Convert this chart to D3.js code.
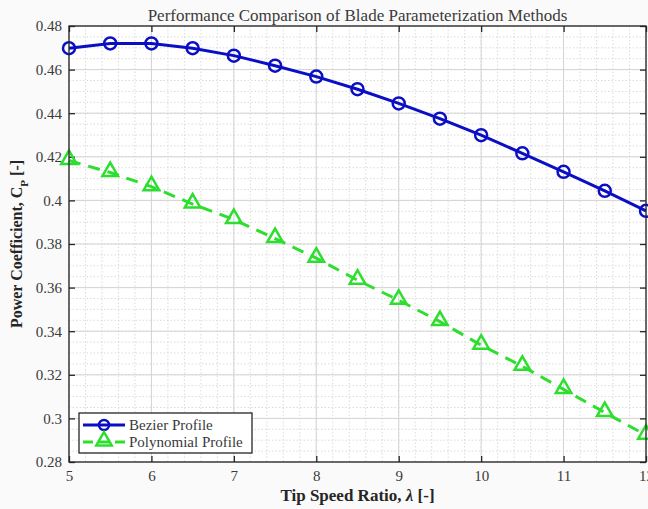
<!DOCTYPE html>
<html>
<head>
<meta charset="utf-8">
<script src="https://cdn.jsdelivr.net/npm/d3@7"></script>
<style>
  html, body { margin: 0; padding: 0; background: #fafafa; }
  svg { display: block; }
</style>
</head>
<body>
<div id="chart"></div>
<script>
  // tip speed ratio samples
  const tsr = [5, 5.5, 6, 6.5, 7, 7.5, 8, 8.5, 9, 9.5, 10, 10.5, 11, 11.5, 12];
  const bezierCp = [0.4698, 0.4720, 0.4720, 0.4698, 0.4664, 0.4618, 0.4568, 0.4510, 0.4445, 0.4375, 0.4299, 0.4216, 0.4131, 0.4044, 0.3952];
  const polyCp = [0.4183, 0.4128, 0.4063, 0.3983, 0.3912, 0.3825, 0.3735, 0.3634, 0.3542, 0.3444, 0.3336, 0.3239, 0.3133, 0.3027, 0.2923];
  const xTicks = [5, 6, 7, 8, 9, 10, 11, 12];
  const yTicks = [0.28, 0.3, 0.32, 0.34, 0.36, 0.38, 0.4, 0.42, 0.44, 0.46, 0.48];
  const seriesNames = ["Bezier Profile", "Polynomial Profile"];

  const width = 648;
  const height = 509;
  const margin = { top: 26, right: 2, bottom: 47, left: 69 };
  const innerW = width - margin.left - margin.right;
  const innerH = height - margin.top - margin.bottom;

  const serif = "'Liberation Serif', 'Times New Roman', serif";
  const blue = "#0b0fc4";
  const green = "#2ede2e";
  const axisColor = "#262626";

  const svg = d3.select("#chart").append("svg")
    .attr("width", width)
    .attr("height", height);

  const x = d3.scaleLinear().domain([5, 12]).range([0, innerW]);
  const y = d3.scaleLinear().domain([0.28, 0.48]).range([innerH, 0]);

  const g = svg.append("g")
    .attr("transform", `translate(${margin.left},${margin.top})`);

  g.append("rect")
    .attr("width", innerW)
    .attr("height", innerH)
    .attr("fill", "#ffffff");

  // minor grid
  const xMinor = d3.range(5, 12.001, 0.2);
  const yMinor = d3.range(0.28, 0.4801, 0.005);
  g.append("g").selectAll("line")
    .data(xMinor)
    .join("line")
    .attr("x1", d => x(d)).attr("x2", d => x(d))
    .attr("y1", 0).attr("y2", innerH)
    .attr("stroke", "#d2d2d2")
    .attr("stroke-width", 0.8)
    .attr("stroke-dasharray", "1.5,2");
  g.append("g").selectAll("line")
    .data(yMinor)
    .join("line")
    .attr("x1", 0).attr("x2", innerW)
    .attr("y1", d => y(d)).attr("y2", d => y(d))
    .attr("stroke", "#d2d2d2")
    .attr("stroke-width", 0.8)
    .attr("stroke-dasharray", "1.5,2");

  // major grid
  g.append("g").selectAll("line")
    .data(xTicks)
    .join("line")
    .attr("x1", d => x(d)).attr("x2", d => x(d))
    .attr("y1", 0).attr("y2", innerH)
    .attr("stroke", "#d4d4d4")
    .attr("stroke-width", 1);
  g.append("g").selectAll("line")
    .data(yTicks)
    .join("line")
    .attr("x1", 0).attr("x2", innerW)
    .attr("y1", d => y(d)).attr("y2", d => y(d))
    .attr("stroke", "#d4d4d4")
    .attr("stroke-width", 1);

  // axes (ticks inward, box on)
  const styleAxis = sel => {
    sel.select(".domain").remove();
    sel.selectAll(".tick line").attr("stroke", axisColor).attr("stroke-width", 1.3);
    sel.selectAll(".tick text")
      .attr("fill", "#3a3a3a")
      .style("font-family", serif)
      .style("font-size", "15px");
  };

  g.append("g")
    .attr("transform", `translate(0,${innerH})`)
    .call(d3.axisBottom(x).tickValues(xTicks).tickFormat(d3.format("d")).tickSizeInner(-6).tickPadding(8))
    .call(styleAxis);
  g.append("g")
    .call(d3.axisTop(x).tickValues(xTicks).tickSizeInner(-6).tickFormat(""))
    .call(styleAxis);
  g.append("g")
    .call(d3.axisLeft(y).tickValues(yTicks).tickFormat(d => String(+d.toFixed(2))).tickSizeInner(-6).tickPadding(7))
    .call(styleAxis);
  g.append("g")
    .attr("transform", `translate(${innerW},0)`)
    .call(d3.axisRight(y).tickValues(yTicks).tickSizeInner(-6).tickFormat(""))
    .call(styleAxis);

  // data lines
  const line = d3.line()
    .x(d => x(d[0]))
    .y(d => y(d[1]));

  const bezierPts = tsr.map((t, i) => [t, bezierCp[i]]);
  const polyPts = tsr.map((t, i) => [t, polyCp[i]]);

  g.append("path")
    .datum(polyPts)
    .attr("d", line)
    .attr("fill", "none")
    .attr("stroke", green)
    .attr("stroke-width", 3)
    .attr("stroke-dasharray", "12,8");

  const tri = d3.symbol().type(d3.symbolTriangle).size(105);
  g.append("g").selectAll("path")
    .data(polyPts)
    .join("path")
    .attr("d", tri)
    .attr("transform", d => `translate(${x(d[0])},${y(d[1]) - 1})`)
    .attr("fill", "none")
    .attr("stroke", green)
    .attr("stroke-width", 2.5);

  g.append("path")
    .datum(bezierPts)
    .attr("d", line)
    .attr("fill", "none")
    .attr("stroke", blue)
    .attr("stroke-width", 3);

  g.append("g").selectAll("circle")
    .data(bezierPts)
    .join("circle")
    .attr("cx", d => x(d[0]))
    .attr("cy", d => y(d[1]))
    .attr("r", 6)
    .attr("fill", "none")
    .attr("stroke", blue)
    .attr("stroke-width", 2.5);

  // axes box
  g.append("rect")
    .attr("width", innerW)
    .attr("height", innerH)
    .attr("fill", "none")
    .attr("stroke", axisColor)
    .attr("stroke-width", 1.3);

  // legend
  const legend = g.append("g").attr("transform", "translate(10,387)");
  legend.append("rect")
    .attr("width", 173)
    .attr("height", 40)
    .attr("fill", "#ffffff")
    .attr("stroke", axisColor)
    .attr("stroke-width", 1.3);

  const legendRows = [
    { name: seriesNames[0], color: blue, dash: null, marker: "circle" },
    { name: seriesNames[1], color: green, dash: "10,6", marker: "triangle" }
  ];
  legendRows.forEach((r, i) => {
    const ly = 12 + i * 17;
    legend.append("line")
      .attr("x1", 4).attr("x2", 46)
      .attr("y1", ly).attr("y2", ly)
      .attr("stroke", r.color)
      .attr("stroke-width", 3)
      .attr("stroke-dasharray", r.dash);
    if (r.marker === "circle") {
      legend.append("circle")
        .attr("cx", 25).attr("cy", ly).attr("r", 5)
        .attr("fill", "none").attr("stroke", r.color).attr("stroke-width", 2.5);
    } else {
      legend.append("path")
        .attr("d", tri)
        .attr("transform", `translate(25,${ly - 1})`)
        .attr("fill", "none").attr("stroke", r.color).attr("stroke-width", 2.5);
    }
    legend.append("text")
      .attr("x", 50).attr("y", ly + 5)
      .attr("fill", "#3a3a3a")
      .style("font-family", serif)
      .style("font-size", "15px")
      .text(r.name);
  });

  // title and axis labels
  svg.append("text")
    .attr("x", margin.left + innerW / 2)
    .attr("y", 21)
    .attr("text-anchor", "middle")
    .attr("fill", "#3a3a3a")
    .style("font-family", serif)
    .style("font-size", "17px")
    .text("Performance Comparison of Blade Parameterization Methods");

  const xLabel = svg.append("text")
    .attr("x", margin.left + innerW / 2)
    .attr("y", 501)
    .attr("text-anchor", "middle")
    .attr("fill", "#262626")
    .style("font-family", serif)
    .style("font-size", "17px")
    .style("font-weight", "bold");
  xLabel.append("tspan").text("Tip Speed Ratio, ");
  xLabel.append("tspan").style("font-style", "italic").text("λ");
  xLabel.append("tspan").text(" [-]");

  const yLabel = svg.append("text")
    .attr("transform", `translate(22,${margin.top + innerH / 2}) rotate(-90)`)
    .attr("text-anchor", "middle")
    .attr("fill", "#262626")
    .style("font-family", serif)
    .style("font-size", "16px")
    .style("font-weight", "bold");
  yLabel.append("tspan").text("Power Coefficient, C");
  yLabel.append("tspan").attr("baseline-shift", "sub").style("font-size", "11px").text("P");
  yLabel.append("tspan").text(" [-]");
</script>
</body>
</html>
